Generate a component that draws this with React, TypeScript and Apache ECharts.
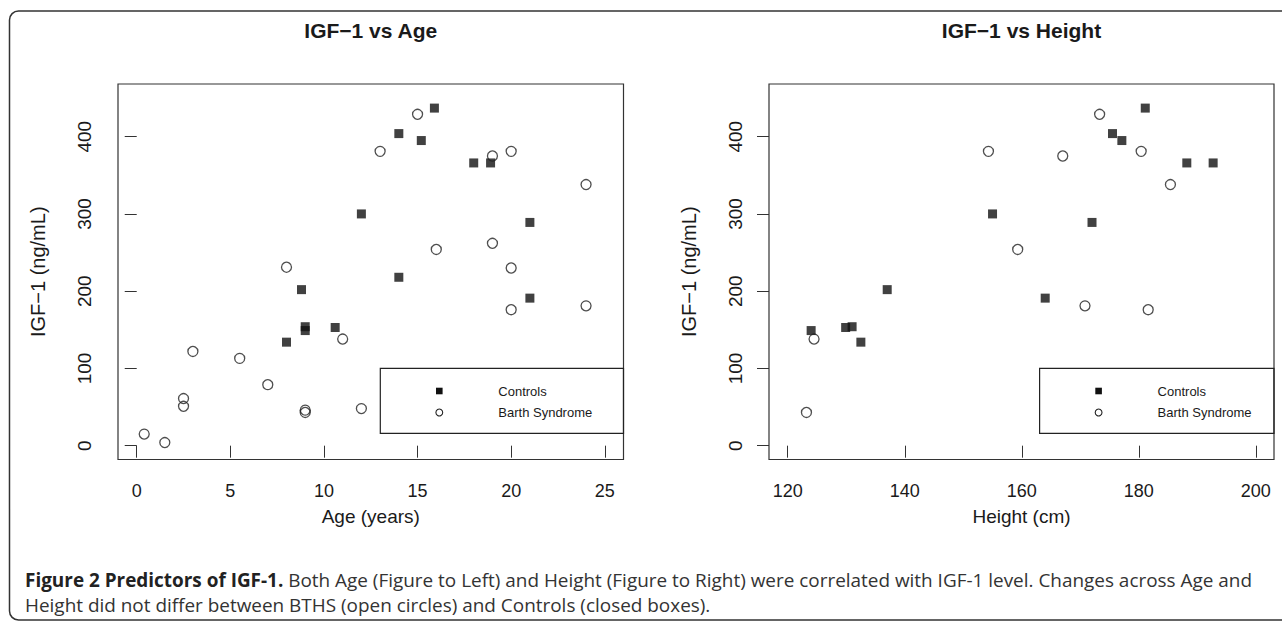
import React, { useEffect, useRef } from "react";
import * as echarts from "echarts";

// ---- data ----
const ageControls = [15.9, 14.0, 15.2, 18.0, 18.9, 12.0, 21.0, 14.0, 8.8, 21.0, 9.0, 9.0, 10.6, 8.0];
const igfControlsAge = [437, 404, 395, 366, 366, 300, 289, 218, 202, 191, 154, 149, 153, 134];
const ageBarth = [15.0, 13.0, 19.0, 20.0, 24.0, 16.0, 19.0, 8.0, 20.0, 20.0, 24.0, 11.0, 3.0, 5.5, 7.0, 2.5, 2.5, 9.0, 9.0, 12.0, 0.4, 1.5];
const igfBarthAge = [429, 381, 375, 381, 338, 254, 262, 231, 230, 176, 181, 138, 122, 113, 79, 61, 51, 46, 43, 48, 15, 4];

const heightControls = [181.1, 175.5, 177.1, 188.2, 192.7, 155.0, 172.0, 137.0, 164.0, 124.0, 129.9, 131.0, 132.5];
const igfControlsHeight = [437, 404, 395, 366, 366, 300, 289, 202, 191, 149, 153, 154, 134];
const heightBarth = [173.3, 154.3, 167.0, 180.4, 185.4, 159.3, 170.8, 181.6, 124.5, 123.2];
const igfBarthHeight = [429, 381, 375, 381, 338, 254, 181, 176, 138, 43];

const ageTicks = [0, 5, 10, 15, 20, 25];
const heightTicks = [120, 140, 160, 180, 200];
const igfTicks = [0, 100, 200, 300, 400];

const ageRange = [-1, 26];
const heightRange = [116.8, 203.1];
const igfRange = [-17.9, 468.2];

const titles = ["IGF\u22121 vs Age", "IGF\u22121 vs Height"];
const xNames = ["Age (years)", "Height (cm)"];
const yName = "IGF\u22121 (ng/mL)";
const seriesNames = ["Controls", "Barth Syndrome"];
const captionBold = "Figure 2 Predictors of IGF-1.";
const captionRest1 =
  " Both Age (Figure to Left) and Height (Figure to Right) were correlated with IGF-1 level. Changes across Age and";
const captionLine2 = "Height did not differ between BTHS (open circles) and Controls (closed boxes).";

const FONT = "'Liberation Sans', Arial, Helvetica, sans-serif";
const CAP_FONT = "'Open Sans', 'Noto Sans', sans-serif";
const INK = "#1a1a1a";

const zip = (xs: number[], ys: number[]) => xs.map((x, i) => [x, ys[i]]);

export default function App() {
  const ref = useRef<HTMLDivElement>(null);

  useEffect(() => {
    document.body.style.margin = "0";
    if (!ref.current) return;
    const chart = echarts.init(ref.current, null, { renderer: "svg" });

    // fit caption font so first line spans the reference width
    let capSize = 15;
    try {
      const c = document.createElement("canvas").getContext("2d");
      if (c) {
        c.font = `bold 15px ${CAP_FONT}`;
        const wb = c.measureText(captionBold).width;
        c.font = `15px ${CAP_FONT}`;
        const wr = c.measureText(captionRest1).width;
        capSize = (15 * 1228) / (wb + wr);
      }
    } catch (e) {}

    const grids = [
      { left: 118, top: 84, width: 505.5, height: 375.5 },
      { left: 769, top: 84, width: 505, height: 375.5 },
    ];

    const xAxisBase = (gi: number, range: number[], ticks: number[], name: string) => ({
      type: "value",
      gridIndex: gi,
      min: range[0],
      max: range[1],
      name,
      nameLocation: "middle",
      nameGap: 47,
      nameTextStyle: { fontFamily: FONT, fontSize: 19, color: INK },
      axisLine: { show: false },
      axisTick: { show: true, length: 12, customValues: ticks, lineStyle: { color: "#333", width: 1 } },
      axisLabel: { customValues: ticks, fontFamily: FONT, fontSize: 18, color: INK, margin: 22 },
      splitLine: { show: false },
    });
    const yAxisBase = (gi: number) => ({
      type: "value",
      gridIndex: gi,
      min: igfRange[0],
      max: igfRange[1],
      name: yName,
      nameLocation: "middle",
      nameGap: 70,
      nameTextStyle: { fontFamily: FONT, fontSize: 20, color: INK },
      axisLine: { show: false },
      axisTick: { show: true, length: 12, customValues: igfTicks, lineStyle: { color: "#333", width: 1 } },
      axisLabel: { customValues: igfTicks, rotate: 90, fontFamily: FONT, fontSize: 19, color: INK, margin: 24 },
      splitLine: { show: false },
    });

    const squareStyle = { color: "#111", borderWidth: 0 };
    const circleStyle = { color: "rgba(0,0,0,0)", borderColor: "#222", borderWidth: 1.3 };

    const legendBox = (x: number, w: number) => [
      { type: "rect", shape: { x, y: 368.3, width: w, height: 65 }, style: { fill: "none", stroke: "#222", lineWidth: 1.2 } },
      { type: "rect", shape: { x: x + 59 - 3.3, y: 391 - 3.3, width: 6.6, height: 6.6 }, style: { fill: "#111" } },
      { type: "circle", shape: { cx: x + 59, cy: 412.5, r: 3.4 }, style: { fill: "none", stroke: "#222", lineWidth: 1.1 } },
      { type: "text", x: x + 118, y: 391, style: { text: seriesNames[0], font: `13px ${FONT}`, fill: INK, verticalAlign: "middle", align: "left" } },
      { type: "text", x: x + 118, y: 412.5, style: { text: seriesNames[1], font: `13px ${FONT}`, fill: INK, verticalAlign: "middle", align: "left" } },
    ];

    chart.setOption({
      animation: false,
      backgroundColor: "#fff",
      grid: grids.map((g) => ({ ...g, show: true, borderColor: "#333", borderWidth: 1.2, backgroundColor: "transparent" })),
      xAxis: [xAxisBase(0, ageRange, ageTicks, xNames[0]), xAxisBase(1, heightRange, heightTicks, xNames[1])],
      yAxis: [yAxisBase(0), yAxisBase(1)],
      series: [
        { name: seriesNames[0], type: "scatter", xAxisIndex: 0, yAxisIndex: 0, symbol: "rect", symbolSize: 9, itemStyle: squareStyle, data: zip(ageControls, igfControlsAge) },
        { name: seriesNames[1], type: "scatter", xAxisIndex: 0, yAxisIndex: 0, symbol: "circle", symbolSize: 10, itemStyle: circleStyle, data: zip(ageBarth, igfBarthAge) },
        { name: seriesNames[0], type: "scatter", xAxisIndex: 1, yAxisIndex: 1, symbol: "rect", symbolSize: 9, itemStyle: squareStyle, data: zip(heightControls, igfControlsHeight) },
        { name: seriesNames[1], type: "scatter", xAxisIndex: 1, yAxisIndex: 1, symbol: "circle", symbolSize: 10, itemStyle: circleStyle, data: zip(heightBarth, igfBarthHeight) },
      ],
      graphic: [
        { type: "rect", shape: { x: 9.5, y: 11, width: 1320, height: 609, r: 9 }, style: { fill: "none", stroke: "#333", lineWidth: 1.5 }, silent: true },
        { type: "text", x: 118 + 505.5 / 2, y: 30, style: { text: titles[0], font: `bold 21px ${FONT}`, fill: INK, align: "center", verticalAlign: "middle" } },
        { type: "text", x: 769 + 505 / 2, y: 30, style: { text: titles[1], font: `bold 21px ${FONT}`, fill: INK, align: "center", verticalAlign: "middle" } },
        ...legendBox(380.3, 623.5 - 380.3),
        ...legendBox(1039.6, 1274 - 1039.6),
        {
          type: "text",
          x: 25,
          y: 580,
          style: {
            text: `{b|${captionBold}}${captionRest1}`,
            font: `${capSize}px ${CAP_FONT}`,
            fill: "#333",
            verticalAlign: "middle",
            align: "left",
            rich: { b: { fontWeight: "bold", fontSize: capSize, fontFamily: CAP_FONT, fill: "#222" } },
          },
        },
        { type: "text", x: 25, y: 605, style: { text: captionLine2, font: `${capSize}px ${CAP_FONT}`, fill: "#333", verticalAlign: "middle", align: "left" } },
      ],
    });

    return () => chart.dispose();
  }, []);

  return <div ref={ref} style={{ width: 1282, height: 622 }} />;
}
